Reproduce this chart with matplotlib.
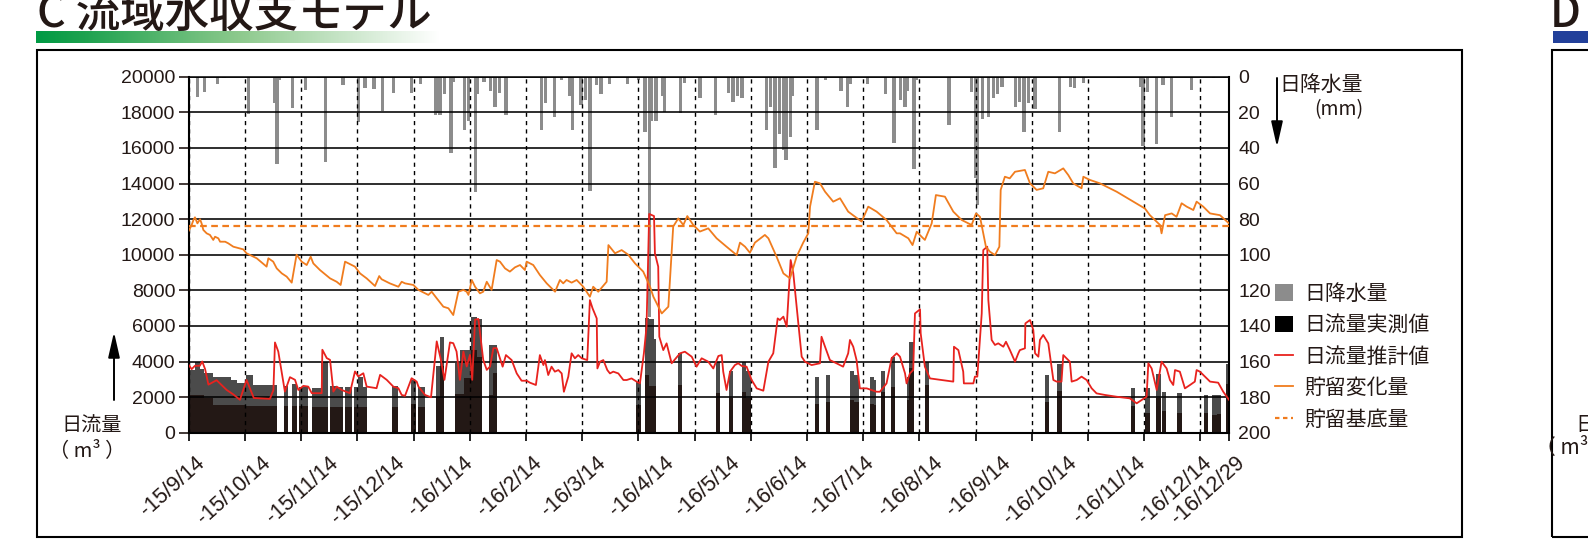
import numpy as np
import pandas as pd
import matplotlib
matplotlib.use('Agg')
import matplotlib.pyplot as plt
from matplotlib.patches import Patch, Rectangle
from matplotlib.lines import Line2D
from matplotlib import transforms
from matplotlib.colors import LinearSegmentedColormap

# ---- データ (日数は 2015/9/14 からの経過日) ----
start_date = '2015-09-14'
label_dates = ['2015-09-14', '2015-10-14', '2015-11-14', '2015-12-14', '2016-01-14',
               '2016-02-14', '2016-03-14', '2016-04-14', '2016-05-14', '2016-06-14',
               '2016-07-14', '2016-08-14', '2016-09-14', '2016-10-14', '2016-11-14',
               '2016-12-14', '2016-12-29']
label_text = ['-15/9/14', '-15/10/14', '-15/11/14', '-15/12/14', '-16/1/14', '-16/2/14',
              '-16/3/14', '-16/4/14', '-16/5/14', '-16/6/14', '-16/7/14', '-16/8/14',
              '-16/9/14', '-16/10/14', '-16/11/14', '-16/12/14', '-16/12/29']

# 日降水量 (mm)
rain_day = [4, 7, 13, 16, 27, 39, 40, 41, 47, 53, 59, 62, 70, 77, 80, 84, 88, 93, 101, 105,
            112, 113, 114, 116, 119, 120, 125, 127, 130, 131, 134, 137, 139,
            141, 144, 153, 160, 162, 166, 169, 173, 174, 178, 180, 182, 185, 187, 191, 199,
            204, 207, 209, 210, 212, 215, 216, 223, 225, 232, 239, 245, 247, 249, 251,
            262, 264, 266, 268, 270, 271, 273, 274, 285, 289, 296, 299, 300, 308, 316, 320,
            323, 325, 326, 329, 330, 345, 355, 357, 358, 360, 363, 365, 367, 369, 375, 377,
            379, 381, 384, 395, 400, 402, 406, 422, 432, 433, 435, 439, 442, 446, 455, 465, 470]
rain_mm = [11.6, 8.4, 4.3, 1, 21, 14.6, 49, 2, 17.8, 7.5, 1, 48, 4.7, 25.6, 6.5, 7, 19, 9.4, 9.4, 4,
           21.5, 20.5, 21.5, 10, 43, 3, 30, 25, 64.6, 10, 3, 8, 17,
           9, 21.5, 1, 30, 15, 22.5, 2, 11, 30, 16, 13, 64, 4.7, 10, 4, 4,
           2, 31, 135, 25, 25, 11, 20, 20.6, 3.7, 12, 21.5, 9, 14, 11, 12,
           30, 17, 51.5, 32, 41, 47, 34, 11, 30, 2, 8, 17, 4, 4, 10, 37.5,
           13, 17, 8, 52, 2, 27, 8.4, 57, 72, 24, 22.5, 12, 10, 5.6, 17, 14,
           31, 15, 18, 31, 5.6, 6.5, 3.7, 1, 5.6, 39, 8.4, 38, 4.7, 22.5, 7.5, 1, 1]

# 日流量実測値 (観測期間ごと: 開始日, 日数, 上段, 下段)
flow_start = [0, 3, 5, 7, 11, 16, 19, 22, 26, 29, 43, 47, 50, 56, 60, 64, 67, 71, 75, 77, 79,
              92, 101, 104, 112, 114, 121, 123, 125, 128, 131, 136, 138,
              203, 207, 209, 211, 222, 239, 245, 251, 253, 284, 289, 300, 302, 309, 311,
              314, 318.5, 326, 327, 334, 388.5, 394, 427.5, 434, 439, 441.5, 448.5,
              460.5, 464.5, 466.5, 470.5]
flow_len = [3, 2, 2, 4, 5, 3, 3, 4, 3, 11, 2, 2, 4, 4, 3, 3, 3, 3, 2, 2, 2,
            3, 2, 3, 2, 2, 2, 2, 3, 3, 2, 2, 2,
            2, 2, 2, 1, 2, 2, 2, 2, 2, 2, 2, 2, 2, 2, 1,
            2, 2, 1, 2, 2, 2, 2, 2, 2, 2, 2, 2,
            2, 2, 2, 1.5]
flow_total = [3530, 4000, 3570, 3340, 3155, 3120, 2970, 2780, 3250, 2690, 2630, 2740, 2550, 2500,
              4000, 2630, 2550, 2590, 2590, 3150, 2590,
              2630, 2970, 2550, 3760, 5370, 3900, 4620, 4620, 6500, 6380, 4920, 4920,
              2870, 6440, 6390, 5260, 4470, 4000, 3490, 4000, 3490, 3120, 3250, 3490, 3250, 3120, 2970,
              3440, 4280, 3150, 5070, 4000, 3250, 3870, 2500, 2500, 3310, 2310, 2220,
              2120, 2120, 2120, 3870]
flow_meas = [2120, 2120, 2120, 1935, 1560, 1560, 1560, 1560, 1500, 1500, 1500, 1500, 1500, 1470,
             1470, 1430, 1430, 1430, 1430, 1430, 1430,
             1430, 1620, 1430, 2030, 3760, 2200, 2200, 3060, 4660, 4280, 2120, 3340,
             1560, 3250, 2630, 2630, 2690, 2220, 1935, 2310, 1935, 1615, 1750, 1840, 1750, 1615, 1560,
             2310, 2590, 1840, 3620, 2690, 1750, 2370, 1500, 1090, 1935, 1240, 1130,
             1090, 1000, 1050, 2740]

# 日流量推計値
est_day = [0, 1.3, 2.8, 5, 6.1, 7.4, 8.9, 12.6, 17.2, 20.2, 23.2, 26.2, 29.5, 36.8, 38.4, 39.1,
           40.6, 43.6, 45.9, 48.2, 49.7, 52, 54.2, 55.8, 60.3, 60.6, 62.6, 64.1, 65.6, 67.1, 69.4,
           73.1, 75.4, 76.9, 79.2, 80.7, 85.2, 86.8, 89.8, 92.8, 95.1, 96.6, 98.1, 101.1, 103.4,
           104.2, 107.2, 109.9, 112.5, 114.4, 116, 118.5, 120, 121.5, 123, 124.6, 126.1, 127.6,
           128.6, 129.9, 131.4, 133.6, 135.2, 136.7, 138.2, 139.7,
           142.4, 143.9, 146.5, 148.8, 151, 153.3, 154.8, 157.5, 159.3, 160.9, 161.6, 163.1,
           164.6, 166.1, 167.7, 169.2, 170.2, 172.2, 173.7, 175.2, 176.7, 178.3, 180.8, 182,
           183.2, 185.1, 185.4, 186.6, 188.1, 189.9, 191.1, 192.6, 194.9, 197.2, 198.7, 200.9,
           203.2, 204.7, 206.5, 207.7, 208.9, 211.1, 211.5, 213, 213.5, 215.3, 216.8, 219.1,
           222.9, 225.1, 228.2, 230.4, 232.7, 235.7, 238, 240.3, 241.8, 242.5, 244, 245.6, 247.8,
           249.3, 250.9, 253.1, 255.4, 257.7, 260.7, 263, 265.2, 267.2, 268.2, 269.8, 271.3,
           273.1, 274.3, 276.6, 278.1, 279.6, 282.6, 286.4, 287.1, 288.7, 290.9, 293.9, 296.9,
           299.2, 300, 301.5, 303, 304.5, 307.6, 309.8, 312.1, 313.6, 316.6, 318.9, 321.2,
           322.7, 325, 325.7, 327.2, 328.7, 329.5, 331.8, 332.1, 334, 336.3, 346.9, 347.2, 349.2,
           351.4, 351.7, 356, 356.7, 357.8, 359.8, 360.5, 362.3, 362.8, 364.3, 365.8, 367.3,
           369.6, 370.8, 372.6, 374.9, 376.4, 377.1, 379.4, 379.6, 381.7, 383.2, 384, 385.5,
           386.2, 387.7, 390, 392.3, 393.8, 396, 396.8, 399.8, 400.6, 402.9, 405.1, 407.4,
           409.7, 411.9, 415.7, 421, 427, 430.1, 434.6, 435.4, 436.9, 439.2, 441.4, 443.7,
           445.2, 446.7, 447.5, 449.7, 452, 454.3, 456.5, 457.3, 458.8, 461.1, 463.4, 467.1,
           469.4, 472]
est_val = [3800, 3570, 3760, 3760, 4000, 3570, 2700, 2950, 2400, 2150, 1850, 2960, 1950, 1900, 2400, 5070,
           4560, 2310, 3120, 2970, 2400, 2630, 2590, 2220, 2220, 4660, 4190, 4090, 2310, 2590, 2400,
           2220, 3440, 3160, 3340, 2590, 2500, 3250, 2970, 2590, 2500, 2120, 2070, 3060, 2870,
           2590, 2120, 1990, 5130, 4090, 2970, 5070, 5030, 4560, 2970, 4560, 3720, 4380,
           2970, 6350, 6390, 4090, 3530, 3720, 4750, 4750,
           3710, 4360, 4080, 3330, 2920, 2920, 2810, 2680, 4360, 3800, 4080, 3240,
           3710, 3430, 3520, 3330, 2300, 3150, 4460, 4180, 4360, 4180, 4080, 7450,
           6990, 6420, 3610, 3990, 4080, 3520, 3330, 3430, 3330, 2960, 2960, 3050,
           2870, 2770, 4460, 5960, 12290, 12170, 10080, 9330, 5390, 4640, 5020, 3900,
           4460, 4550, 4270, 3710, 4180, 3990, 3610, 4310, 4360, 3430, 2400, 3430, 3800,
           3900, 3750, 3710, 2960, 2490, 2360, 3990, 4460, 6420, 6330, 6520, 5960,
           9700, 8950, 6140, 4270, 3990, 3800, 3900, 5390, 4830, 4080, 3900, 3710,
           4460, 5210, 4830, 4080, 2490, 2490, 2400, 2300, 2300, 2770, 4180, 4460,
           4270, 3330, 2770, 3330, 3520, 6700, 6930, 5580, 3710, 3050, 2870, 4830, 4640,
           3430, 2770, 2770, 3150, 3150, 6700, 10260, 10450, 7450, 5210, 4930, 5020,
           4830, 5110, 4640, 3990, 4460, 4640, 4740, 6140, 6330, 5770, 4460, 4270,
           5210, 5490, 5020, 2960, 2870, 2870, 4360, 3990, 2870, 2960, 3150, 2960,
           2490, 2210, 2120, 2020, 1930, 1650, 2020, 3900, 3610, 2400, 3990, 3610,
           2960, 2680, 3520, 3430, 2490, 2680, 2870, 3520, 3430, 3150, 2870, 2810,
           2300, 1850]

# 貯留変化量
stor_day = [0, 1.3, 2.1, 2.8, 3.9, 5.1, 5.8, 6.6, 8.1, 9.6, 11.1, 11.9, 13.4, 14.2, 16.5, 17.9,
            20.2, 24.7, 26.2, 30.8, 35.3, 36.1, 38.3, 39.9, 42.2, 44.4, 46.7, 48.9, 51.2, 53.5,
            55.3, 56.5, 59.5, 64.1, 67.1, 68.9, 70.9, 75.4, 77.7, 80.7, 84.5, 86.4, 87.5, 91.2,
            95.1, 96.6, 98.1, 101.9, 104.2, 107.2, 108.7, 110.2, 112.5, 115.5, 117.8, 120,
            122.3, 124.6, 126.1, 126.9, 128.4, 129.9, 132.1, 133.6, 135.2, 137.4, 139.7,
            141.2, 143.5, 145.7, 148, 150.3, 152.5, 153.3, 156.3, 159.3, 162.4, 166.2, 168.4,
            169.9, 171.4, 173.7, 176, 179, 182, 183.5, 185.8, 189.6, 190.4, 193.4, 196.4,
            199.4, 202.5, 206.2, 209.3, 210.8, 214.6, 217.6, 219.8, 222.1, 224.4, 226.2,
            228.9, 231.9, 235.7, 239.5, 244, 248.6, 250.1, 252.4, 254.6, 256.9, 261.4, 263,
            266.7, 269.8, 272.8, 275.8, 278.8, 281.1, 281.9, 284.1, 286.4, 288.7, 292.4,
            295.5, 299.2, 305.3, 308.3, 312.1, 316.6, 321.2,
            322.7, 326.5, 328.4, 330.3, 332.5, 334, 337.1, 339, 343.1, 346.9, 350.7, 355.2,
            357.2, 359, 361.7, 363.5, 365.8, 367.8, 368.4, 370.3, 372.5, 374.9, 379.4, 381.7,
            384.7, 387.7, 390, 393, 396.8, 399.1, 401.3, 405.1, 405.9, 408.9, 413.4, 421,
            428.6, 433.9, 436.1, 440.7, 441.4, 443, 446, 448.2, 450.5, 452.8, 455.8, 457.3,
            460.3, 463.4, 467.9, 472]
stor_val = [11350, 11670, 11950, 12100, 11760, 11990, 11760, 11390, 11200, 11110, 10830, 11010,
            10920, 10730, 10730, 10640, 10450, 10300, 10080, 9800, 9330, 9800, 9610, 9230, 8950,
            8770, 8430, 10000, 9610, 9420, 9890, 9510, 9140, 8670, 8480, 8300, 9610, 9330, 8950,
            8670, 8240, 8800, 8620, 8390, 8200, 8480, 8390, 8300, 8020, 7830, 7740, 7920, 7550,
            7080, 6990, 6610, 7920, 8020, 7920, 7740, 8580, 8200, 7830, 7920, 8480, 8020, 9700,
            9610, 9230, 9050, 9290, 9420, 9140, 9610, 9420, 8860, 8390, 7920, 8580,
            8390, 8580, 8430, 8580, 8200, 7640, 8200, 7920, 8480, 10540, 10080, 10260,
            10000, 9510, 9050, 8200, 7640, 6700, 7080, 11580, 12040, 11670, 12170,
            11670, 11300, 11480, 10920, 10450, 9980, 10680, 10450, 10110, 10680, 11110, 10920,
            9890, 8950, 8670, 9890, 10680, 11200, 12700, 14100, 14010, 13540, 12980,
            13170, 12420, 11860, 12700, 12420, 11950, 11200,
            11200, 10920, 10540, 11290, 11010, 10830, 11760, 13350, 13260, 12420, 11950, 11670,
            12320, 12130, 10450, 10170, 9980, 10450, 13640, 14380, 14290, 14660, 14760, 14010,
            13640, 13730, 14660, 14570, 14850, 14470, 14010, 13730, 14380, 14200, 14010, 13540,
            12980, 12590, 12220, 11670, 11200, 12220, 12320, 12130, 12890, 12700, 12510, 12980,
            12700, 12320, 12220, 11760]

# 貯留基底量
base_storage = 11600

# ---- 描画 ----
W, H = 1588, 541
ink = '#231815'
cjk = ['Noto Sans CJK JP', 'DejaVu Sans']
num = ['Liberation Sans Narrow', 'Liberation Sans', 'DejaVu Sans']
plt.rcParams['font.family'] = num

def fx(px):
    return px / W

def fy(py):
    return 1 - py / H

fig = plt.figure(figsize=(W / 100, H / 100), dpi=100)

days = (pd.to_datetime(label_dates) - pd.Timestamp(start_date)).days.values
tick_step = 25.5
ticks = list(np.arange(0, 460, tick_step)) + [days[-1]]

ax = fig.add_axes([fx(188.8), fy(432.7), fx(1229) - fx(188.8), (432.7 - 76.7) / H])
ax2 = ax.twinx()
ax.set_zorder(3)
ax2.set_zorder(2)
ax.patch.set_visible(False)

# 日降水量 (右軸・下向き)
ax2.bar(rain_day, rain_mm, width=1.5, color='#8c8c8c', linewidth=0)
ax2.set_ylim(200, 0)
ax2.set_yticks(range(0, 201, 20))
ax2.tick_params(axis='y', length=0, pad=6.5, labelsize=14, colors=ink)
for s in ax2.spines.values():
    s.set_visible(False)

# 日流量
ax.bar(flow_start, flow_total, width=flow_len, align='edge', color='#4b4b4b', linewidth=0, zorder=1)
ax.bar(flow_start, flow_meas, width=flow_len, align='edge', color=ink, linewidth=0, zorder=1.1)
ax.plot(est_day, est_val, color='#e8221e', lw=1.3, zorder=3)
ax.plot(stor_day, stor_val, color='#f07c1e', lw=1.3, zorder=3)
ax.axhline(base_storage, color='#f07c1e', lw=1.6, ls=(0, (3, 2)), zorder=3)

ax.set_xlim(0, days[-1])
ax.set_ylim(0, 20000)
ax.set_yticks(range(0, 20001, 2000))
ax.set_xticks(ticks)
ax.set_xticklabels([])
ax.set_axisbelow('line')
ax.yaxis.grid(True, color='k', lw=1.15)
ax.xaxis.grid(True, color='k', lw=1.0, ls=(0, (3, 3)))
ax.tick_params(axis='y', direction='out', length=7, width=1.2, pad=2.7, labelsize=14, colors=ink)
ax.tick_params(axis='x', direction='out', length=6, width=1.2)
for side in ['left', 'right', 'bottom']:
    ax.spines[side].set_linewidth(1.5)
ax.spines['top'].set_linewidth(1.1)

# 日付ラベル
lab_tr = transforms.offset_copy(ax.get_xaxis_transform(), fig=fig, x=4, y=-14, units='points')
for d, t in zip(days, label_text):
    ax.text(d, 0, t, transform=lab_tr, rotation=42, rotation_mode='anchor', ha='right', va='top',
            fontsize=15.5, family=['Liberation Sans', 'DejaVu Sans'], color=ink)

# 凡例
handles = [Patch(facecolor='#8c8c8c'), Patch(facecolor='black'),
           Line2D([], [], color='#e8221e', lw=1.3), Line2D([], [], color='#f07c1e', lw=1.3),
           Line2D([], [], color='#f07c1e', lw=1.6, ls=(0, (2, 1.6)))]
labels = ['日降水量', '日流量実測値', '日流量推計値', '貯留変化量', '貯留基底量']
leg = ax.legend(handles, labels, loc='upper left', bbox_to_anchor=(fx(1275), fy(283)),
                bbox_transform=fig.transFigure, frameon=False, prop={'family': cjk, 'size': 15},
                handlelength=0.85, handleheight=0.85, handletextpad=0.55, labelspacing=0.45,
                borderpad=0, borderaxespad=0)
for t in leg.get_texts():
    t.set_color(ink)

# 軸ラベルと矢印
fig.text(fx(92), fy(426), '日流量', ha='center', va='center', fontsize=14.5, family=cjk, color=ink)
fig.text(fx(87), fy(451), '（ m³ ）', ha='center', va='center', fontsize=14.5, family=cjk, color=ink)
fig.text(fx(1279), fy(85), '日降水量', ha='left', va='center', fontsize=15, family=cjk, color=ink)
fig.text(fx(1363), fy(110), '(mm)', ha='right', va='center', fontsize=14, family=cjk, color=ink)
arrow = dict(arrowstyle='-|>,head_length=1.1,head_width=0.25', color='black', lw=1.4,
             mutation_scale=14, shrinkA=0, shrinkB=0)
fig.add_artist(matplotlib.patches.FancyArrowPatch((fx(114), fy(400)), (fx(114), fy(332)),
                                                  transform=fig.transFigure, **arrow))
fig.add_artist(matplotlib.patches.FancyArrowPatch((fx(1277), fy(78)), (fx(1277), fy(147)),
                                                  transform=fig.transFigure, **arrow))

# 見出しと枠
fig.text(fx(37), fy(27), 'C 流域水収支モデル', fontsize=32, fontweight='medium', family=cjk,
         color=ink, va='baseline')
fig.text(fx(1550), fy(27), 'D', fontsize=32, fontweight='medium', family=cjk, color=ink,
         va='baseline')
green = LinearSegmentedColormap.from_list('g', [(0, '#009a44'), (0.12, '#1ea24f'),
                                                (0.5, '#8cc98c'), (1, '#ffffff')])
gax = fig.add_axes([fx(36), fy(43), fx(440) - fx(36), 12 / H])
gax.imshow(np.linspace(0, 1, 256)[None, :], cmap=green, aspect='auto')
gax.axis('off')
fig.add_artist(Rectangle((fx(1553), fy(43)), fx(40), 12 / H, transform=fig.transFigure,
                         color='#22409a', lw=0))
fig.add_artist(Rectangle((fx(36.5), fy(536.8)), fx(1462) - fx(36.5), (536.8 - 49.6) / H,
                         transform=fig.transFigure, fill=False, ec='black', lw=1.5))
fig.add_artist(Rectangle((fx(1552), fy(536.8)), fx(60), (536.8 - 49.6) / H,
                         transform=fig.transFigure, fill=False, ec='black', lw=1.5))
fig.text(fx(1575), fy(425), '日流量', ha='left', va='center', fontsize=15, family=cjk, color=ink)
fig.text(fx(1535), fy(448), '（ m³ ）', ha='left', va='center', fontsize=15, family=cjk, color=ink)

fig.savefig('out.png', dpi=100)
